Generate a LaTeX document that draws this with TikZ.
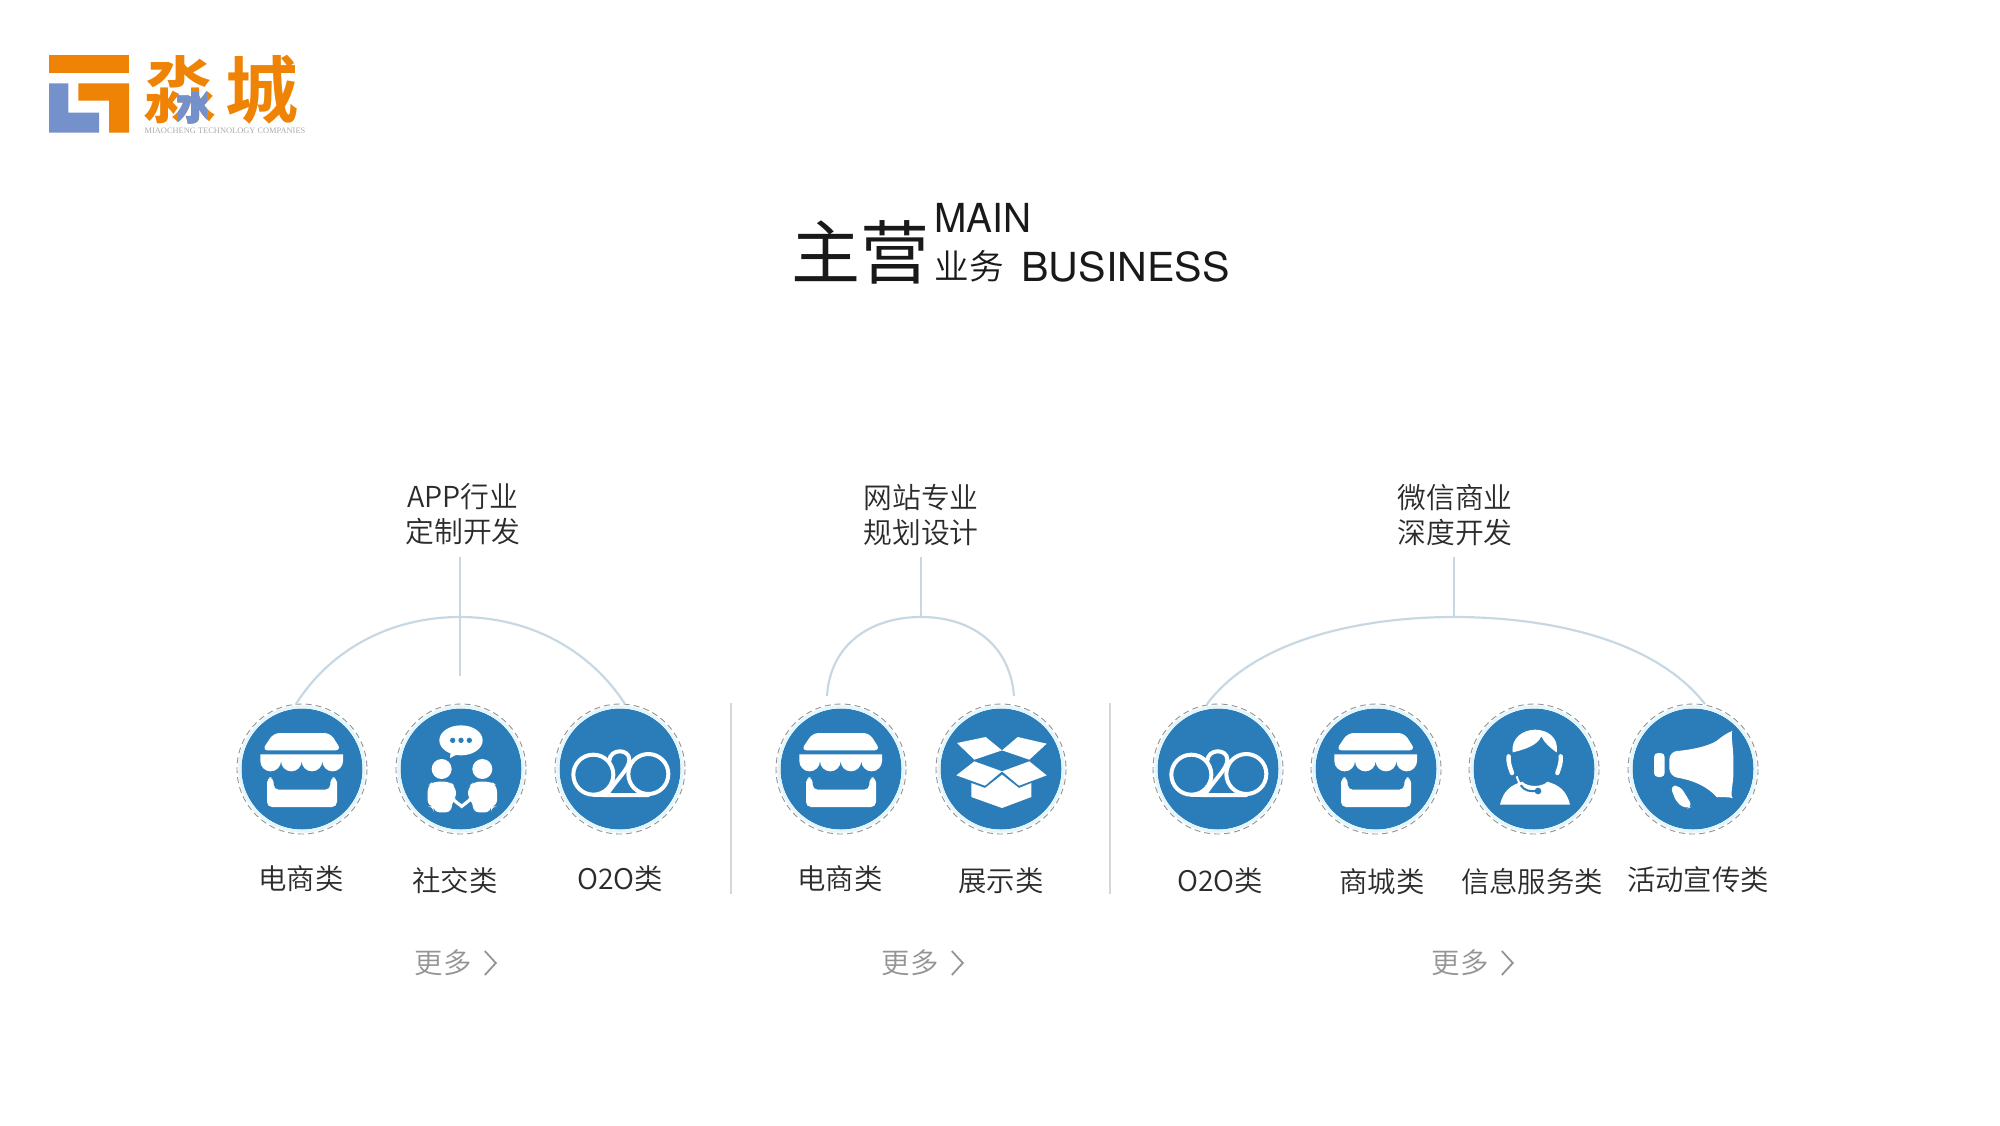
\documentclass[tikz,border=0pt]{standalone}
\usepackage{fontspec}
\setmainfont{TeX Gyre Heros}
\newfontfamily\cjk{Noto Sans CJK SC DemiLight}
\newfontfamily\cjkr{Noto Sans CJK SC}
\newfontfamily\cjkb{Noto Sans CJK SC Bold}
\newfontfamily\serifs{Liberation Serif}
\definecolor{discblue}{HTML}{2A7DB8}
\definecolor{ringblue}{HTML}{E4F6FB}
\definecolor{orangeL}{HTML}{EF8305}
\definecolor{blueL}{HTML}{7491CB}
\definecolor{linec}{HTML}{C8D8E3}
\definecolor{txt}{HTML}{2B2B2B}
\tikzset{
 disc/.style={circle,fill=discblue,minimum size=60.5pt,inner sep=0pt},
 ringline/.style={draw=gray!85,densely dashed,line width=0.45pt},
 halo/.style={draw=ringblue,line width=1.5pt},
 arcline/.style={draw=linec,line width=1.1pt},
 divider/.style={draw=black!16,line width=0.8pt},
 lab/.style={font=\fontsize{14.2}{14.2}\selectfont\cjk,text=txt,inner sep=0pt,align=center},
 head/.style={font=\fontsize{14.4}{17.3}\selectfont\cjk,text=txt,inner sep=0pt,align=center},
 more/.style={font=\fontsize{14.2}{14.2}\selectfont\cjk,text=black!42,inner sep=0pt},
 chev/.style={draw=black!42,line width=0.9pt},
 icon/.style={fill=white,draw=none},
 ttl/.style={inner sep=0pt,text=black!90},
 logoch/.style={inner sep=0pt,font=\fontsize{36.5}{36.5}\selectfont\cjkb}
}
\newcommand\inIcon[2]{\begin{scope}[shift={(#1)},x=0.16667pt,y=-0.16667pt]#2\end{scope}}
\newcommand\iconStore{%
 \fill[icon,rounded corners=3pt] (-85,-108)--(85,-108)--(118,-56)--(-120,-56)--cycle;
 \fill[icon] (-125,-44)--(123,-44)--(123,-24) arc[start angle=0,end angle=180,radius=31] arc[start angle=0,end angle=180,radius=31] arc[start angle=0,end angle=180,radius=31] arc[start angle=0,end angle=180,radius=31]--cycle;
 \fill[icon,rounded corners=2.5pt] (-105,25)--(-85,25)--(-85,62)--(85,62)--(85,25)--(105,25)--(105,114)--(-105,114)--cycle;}
\newcommand\iconSocial{%
 \fill[icon] (0,-86) ellipse[x radius=65,y radius=45];
 \fill[icon] (-30,-60)--(-33,-33)--(0,-50)--cycle;
 \foreach \q in {-25,0,25}{\fill[discblue] (\q,-86) circle[radius=8];}
 \fill[icon] (-58,0) circle[radius=30];
 \fill[icon] (64,0) circle[radius=30];
 \fill[icon,rounded corners=3pt] (-100,112)--(-100,50)--(-85,38)--(-32,38)--(-18,52)--(-12,85)--(-28,98)--(-28,130)--(-82,130)--(-82,112)--cycle;
 \fill[icon,rounded corners=3pt] (108,112)--(108,50)--(92,38)--(38,38)--(24,52)--(18,85)--(36,98)--(36,130)--(90,130)--(90,112)--cycle;
 \draw[draw=white,line width=1.6pt] (-26,90)--(2,112)--(30,90);}
\newcommand\iconOO{%
 \draw[draw=white,line width=2pt] (-80,17) circle[radius=60];
 \draw[draw=white,line width=2pt] (85,15) circle[radius=60];
 \draw[draw=white,line width=2pt,line cap=round] (-32,-25) .. controls (-30,-62) and (28,-62) .. (28,-28) .. controls (28,0) and (-10,30) .. (-40,78) -- (85,78);
 \draw[draw=white,line width=2pt] (-80,78)--(85,78);}
\newcommand\iconBox{%
 \fill[icon] (-132,-78)--(-46,-96)--(3,-56)--(-80,-28)--cycle;
 \fill[icon] (137,-76)--(50,-96)--(3,-56)--(85,-28)--cycle;
 \fill[icon] (-134,19)--(-80,-23)--(3,7)--(-48,50)--cycle;
 \fill[icon] (137,19)--(85,-23)--(3,7)--(54,50)--cycle;
 \fill[icon] (-89,84)--(3,117)--(91,84)--(91,42)--(54,57)--(3,17)--(-48,57)--(-89,42)--cycle;}
\newcommand\iconAgent{%
 \fill[icon] (-64,-50) .. controls (-70,-95) and (-30,-118) .. (3,-118) .. controls (40,-118) and (75,-95) .. (68,-50) .. controls (50,-62) and (30,-80) .. (22,-98) .. controls (10,-70) and (-30,-58) .. (-64,-50)--cycle;
 \draw[draw=white,line width=2.2pt,line cap=round] (-76,-38) .. controls (-78,-20) and (-72,-5) .. (-66,12);
 \draw[draw=white,line width=2.2pt,line cap=round] (80,-38) .. controls (82,-20) and (76,-5) .. (70,12);
 \fill[icon] (-102,107) .. controls (-92,65) and (-70,48) .. (-35,38) .. controls (-20,55) and (25,55) .. (40,38) .. controls (75,48) and (98,65) .. (108,107)--cycle;
 \draw[draw=discblue,line width=1pt] (-40,48) .. controls (-30,66) and (-10,68) .. (8,66);
 \draw[draw=white,line width=1pt] (-52,22) .. controls (-48,35) and (-44,42) .. (-40,48);
 \fill[discblue] (12,66) circle[radius=10];}
\newcommand\iconHorn{%
 \fill[icon,rounded corners=4pt] (-71,-53) .. controls (-30,-55) and (50,-65) .. (96,-106) .. controls (112,-112) and (121,-60) .. (121,-8) .. controls (121,40) and (110,85) .. (96,82) .. controls (70,85) and (40,40) .. (-71,22)--cycle;
 \fill[icon,rounded corners=2pt] (-117,-48) rectangle (-85,24);
 \fill[icon,rounded corners=3pt] (-69,50)--(-39,50)--(-1,112)--(-19,120)--(-49,102)--cycle;}
\begin{document}
\begin{tikzpicture}[x=0.5pt,y=-0.5pt]
\useasboundingbox (0,0) rectangle (2000,1125);
% logo
\begin{scope}[shift={(30,30)},x=0.16667pt,y=-0.16667pt]
 \fill[orangeL] (57,75) rectangle (297,130);
 \fill[orangeL] (145,160)--(297,160)--(297,308)--(237,308)--(237,212)--(145,212)--cycle;
 \fill[blueL] (57,160)--(115,160)--(115,248)--(207,248)--(207,308)--(57,308)--cycle;
\end{scope}
\node[logoch,text=orangeL] (miao) at (180,90) {淼};
\begin{scope}
 \clip (178,92) rectangle (206,127);
 \node[logoch,text=blueL] (miaob) at (180,90) {淼};
\end{scope}
\node[logoch,text=orangeL] (cheng) at (262,90) {城};
\node[inner sep=0pt,text=black!33,font=\fontsize{4.2}{4.2}\selectfont\serifs] (sub) at (225,131) {MIAOCHENG TECHNOLOGY COMPANIES};
% title
\node[ttl,font=\fontsize{34.5}{34.5}\selectfont\cjkr] (zy) at (860,252) {主营};
\node[ttl,anchor=west,font=\fontsize{20}{20}\selectfont,xscale=0.97,transform shape] (mainT) at (934,218) {MAIN};
\node[ttl,anchor=west,font=\fontsize{17.3}{17.3}\selectfont\cjk] (yw) at (934,266) {业务};
\node[ttl,anchor=west,font=\fontsize{20}{20}\selectfont,xscale=1.03,transform shape] (bus) at (1021,267) {BUSINESS};
% headings
\node[head] (h1) at (463,514) {APP行业\\定制开发};
\node[head] (h2) at (921,515) {网站专业\\规划设计};
\node[head] (h3) at (1455,515) {微信商业\\深度开发};
% discs
\foreach \n/\px in {c1/302,c2/461,c3/620,c4/841,c5/1001,c6/1218,c7/1376,c8/1534,c9/1693}{
 \node[disc] (\n) at (\px,769) {};
 \draw[halo] (\n.center) circle[radius=62.2];
 \draw[ringline] (\n.center) circle[radius=65];
}
\inIcon{c1.center}{\iconStore}
\inIcon{c2.center}{\iconSocial}
\inIcon{c3.center}{\iconOO}
\inIcon{c4.center}{\iconStore}
\inIcon{c5.center}{\iconBox}
\inIcon{c6.center}{\iconOO}
\inIcon{c7.center}{\iconStore}
\inIcon{c8.center}{\iconAgent}
\inIcon{c9.center}{\iconHorn}
% connectors
\coordinate (s1t) at (460,557); \coordinate (s1b) at (460,676);
\coordinate (s2t) at (921,557); \coordinate (s2b) at (921,617);
\coordinate (s3t) at (1454,557); \coordinate (s3b) at (1454,617);
\coordinate (a1l) at (296,704); \coordinate (a1r) at (625,704);
\coordinate (a2l) at (827,696); \coordinate (a2r) at (1014,696);
\coordinate (a3l) at (1207,704); \coordinate (a3r) at (1705,704);
\draw[arcline] (s1t)--(s1b);
\draw[arcline] (s2t)--(s2b);
\draw[arcline] (s3t)--(s3b);
\draw[arcline] (a1l) .. controls (330,650) and (390,617) .. (460,617) .. controls (530,617) and (590,650) .. (a1r);
\draw[arcline] (a2l) .. controls (830,645) and (870,617) .. (s2b) .. controls (972,617) and (1010,645) .. (a2r);
\draw[arcline] (a3l) .. controls (1255,640) and (1360,617) .. (s3b) .. controls (1550,617) and (1655,640) .. (a3r);
% dividers
\coordinate (d1t) at (731,703); \coordinate (d1b) at (731,894);
\coordinate (d2t) at (1110,703); \coordinate (d2b) at (1110,894);
\draw[divider] (d1t)--(d1b);
\draw[divider] (d2t)--(d2b);
% labels
\node[lab] (l1) at (301,879) {电商类};
\node[lab] (l2) at (455,881) {社交类};
\node[lab] (l3) at (620,879) {O2O类};
\node[lab] (l4) at (840,879) {电商类};
\node[lab] (l5) at (1001,881) {展示类};
\node[lab] (l6) at (1220,881) {O2O类};
\node[lab] (l7) at (1382,882) {商城类};
\node[lab] (l8) at (1532,882) {信息服务类};
\node[lab] (l9) at (1698,880) {活动宣传类};
% more
\foreach \n/\px in {m1/443,m2/910,m3/1460}{
 \node[more] (\n) at (\px,963) {更多};
 \draw[chev] ([shift={(13,-12)}]\n.east)--([shift={(24,0)}]\n.east)--([shift={(13,12)}]\n.east);
}
\end{tikzpicture}
\end{document}
